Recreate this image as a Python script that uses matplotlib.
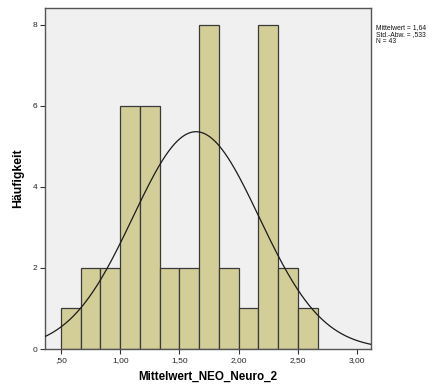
import numpy as np
import matplotlib
matplotlib.use("Agg")
import matplotlib.pyplot as plt

plt.rcParams['font.family'] = ['Liberation Sans', 'DejaVu Sans']

# Histogram of Mittelwert_NEO_Neuro_2 (SPSS-style)
bin_edges = [0.5, 0.6667, 0.8333, 1.0, 1.1667, 1.3333, 1.5, 1.6667,
             1.8333, 2.0, 2.1667, 2.3333, 2.5, 2.6667]
counts = [1, 2, 2, 6, 6, 2, 2, 8, 2, 1, 8, 2, 1]
mean = 1.64
std = 0.533
n = 43
x_ticks = [0.5, 1.0, 1.5, 2.0, 2.5, 3.0]
x_ticklabels = [',50', '1,00', '1,50', '2,00', '2,50', '3,00']
y_ticks = [0, 2, 4, 6, 8]


def main():
    fig = plt.figure(figsize=(4.43, 3.87), dpi=100)
    ax = fig.add_axes([45 / 443, 1 - 349 / 387, (370.5 - 45) / 443, (349 - 7.5) / 387])
    ax.set_facecolor('#F0F0F0')

    edges = np.array(bin_edges)
    widths = np.diff(edges)
    ax.bar(edges[:-1], counts, width=widths, align='edge',
           color='#D3CE98', edgecolor='#3A3A3A', linewidth=0.9, zorder=2)

    # normal curve scaled to counts
    xs = np.linspace(0.36, 3.12, 400)
    bw = widths.mean()
    ys = n * bw / (std * np.sqrt(2 * np.pi)) * np.exp(-0.5 * ((xs - mean) / std) ** 2)
    ax.plot(xs, ys, color='#1A1A1A', linewidth=0.9, zorder=3)

    ax.set_xlim(0.365, 3.113)
    ax.set_ylim(0, 8.43)
    ax.set_xticks(x_ticks)
    ax.set_xticklabels(x_ticklabels)
    ax.set_yticks(y_ticks)
    ax.tick_params(labelsize=6, length=3.5, width=0.8, color='#333333',
                   labelcolor='#222222', pad=2)
    for s in ax.spines.values():
        s.set_color('#555555')
        s.set_linewidth(1.0)

    ax.set_xlabel('Mittelwert_NEO_Neuro_2', fontsize=8.4, fontweight='bold', labelpad=5)
    ax.set_ylabel('Häufigkeit', fontsize=8.8, fontweight='bold', labelpad=6)

    fig.text(376 / 443, 1 - 24 / 387,
             'Mittelwert = 1,64\nStd.-Abw. = ,533\nN = 43',
             fontsize=4.9, va='top', ha='left', linespacing=1.0, color='#111111')

    fig.savefig('out.png', dpi=100)


if __name__ == "__main__":
    main()
